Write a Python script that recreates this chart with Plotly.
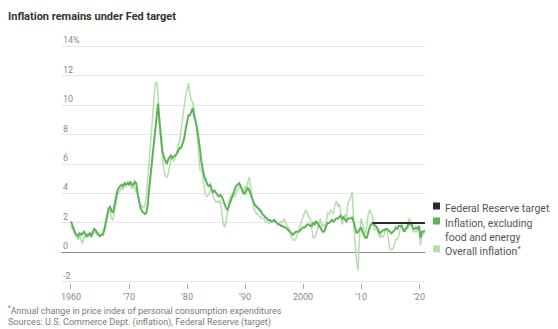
import pandas as pd
import plotly.graph_objects as go

# Year-over-year change in PCE price index, quarterly, 1960 Q1 - 2021 Q1 (percent)
core_inflation = [
    2.1, 1.8, 1.5, 1.3,   # 1960
    1.2, 1.1, 1.3, 1.2,   # 1961
    1.3, 1.4, 1.2, 1.1,   # 1962
    1.2, 1.3, 1.1, 1.3,   # 1963
    1.6, 1.5, 1.3, 1.2,   # 1964
    1.1, 1.2, 1.2, 1.5,   # 1965
    2.0, 2.6, 3.0, 3.1,   # 1966
    2.8, 2.7, 3.2, 3.7,   # 1967
    4.2, 4.4, 4.5, 4.6,   # 1968
    4.5, 4.7, 4.6, 4.7,   # 1969
    4.6, 4.8, 4.6, 4.6,   # 1970
    4.8, 4.7, 4.0, 3.4,   # 1971
    3.0, 2.8, 2.7, 2.6,   # 1972
    2.7, 3.3, 4.4, 5.4,   # 1973
    6.3, 7.5, 8.6, 9.5,   # 1974
    10.1, 9.0, 7.6, 6.9,  # 1975
    6.5, 6.2, 6.0, 6.3,   # 1976
    6.5, 6.6, 6.4, 6.5,   # 1977
    6.6, 6.7, 6.9, 7.1,   # 1978
    7.1, 7.4, 7.7, 8.3,   # 1979
    8.9, 9.3, 9.3, 9.5,   # 1980
    9.8, 9.2, 8.9, 8.4,   # 1981
    7.8, 7.0, 6.1, 5.5,   # 1982
    5.1, 4.9, 4.6, 4.5,   # 1983
    4.6, 4.3, 4.1, 4.2,   # 1984
    4.0, 3.9, 3.8, 3.9,   # 1985
    3.8, 3.5, 3.2, 3.0,   # 1986
    2.9, 3.2, 3.5, 3.8,   # 1987
    4.0, 4.3, 4.5, 4.6,   # 1988
    4.7, 4.5, 4.2, 4.0,   # 1989
    4.0, 4.2, 4.4, 4.2,   # 1990
    3.9, 3.6, 3.4, 3.2,   # 1991
    3.1, 3.0, 2.9, 2.8,   # 1992
    2.6, 2.5, 2.4, 2.3,   # 1993
    2.2, 2.2, 2.1, 2.1,   # 1994
    2.2, 2.1, 2.0, 1.9,   # 1995
    1.9, 1.8, 1.8, 1.7,   # 1996
    1.7, 1.6, 1.5, 1.4,   # 1997
    1.3, 1.2, 1.3, 1.4,   # 1998
    1.4, 1.4, 1.5, 1.6,   # 1999
    1.7, 1.7, 1.8, 1.9,   # 2000
    1.9, 1.8, 1.8, 2.0,   # 2001
    1.9, 2.1, 2.0, 1.8,   # 2002
    1.6, 1.5, 1.4, 1.5,   # 2003
    1.8, 2.0, 2.0, 2.1,   # 2004
    2.2, 2.1, 2.2, 2.3,   # 2005
    2.3, 2.4, 2.5, 2.3,   # 2006
    2.4, 2.2, 2.1, 2.3,   # 2007
    2.3, 2.3, 2.4, 2.0,   # 2008
    1.6, 1.3, 1.4, 1.6,   # 2009
    1.7, 1.4, 1.2, 1.0,   # 2010
    1.0, 1.4, 1.7, 1.9,   # 2011
    2.0, 1.9, 1.8, 1.7,   # 2012
    1.5, 1.3, 1.4, 1.5,   # 2013
    1.5, 1.6, 1.6, 1.5,   # 2014
    1.4, 1.3, 1.4, 1.5,   # 2015
    1.7, 1.6, 1.8, 1.8,   # 2016
    1.8, 1.6, 1.4, 1.6,   # 2017
    1.7, 2.0, 1.9, 1.9,   # 2018
    1.6, 1.6, 1.7, 1.6,   # 2019
    1.8, 1.0, 1.4, 1.4,   # 2020
    1.5,                  # 2021
]

overall_inflation = [
    1.8, 1.6, 1.3, 1.2,   # 1960
    1.0, 0.9, 1.1, 0.8,   # 1961
    0.6, 1.1, 1.0, 1.3,   # 1962
    1.1, 1.2, 1.0, 1.4,   # 1963
    1.3, 1.4, 1.2, 1.3,   # 1964
    1.1, 1.3, 1.4, 1.7,   # 1965
    2.2, 2.6, 2.9, 2.8,   # 1966
    2.3, 2.2, 2.8, 3.2,   # 1967
    3.9, 4.1, 4.3, 4.4,   # 1968
    4.3, 4.6, 4.5, 4.8,   # 1969
    4.8, 4.6, 4.3, 4.6,   # 1970
    4.4, 4.2, 3.9, 3.4,   # 1971
    3.1, 3.2, 3.0, 3.2,   # 1972
    3.8, 5.0, 6.2, 7.6,   # 1973
    9.0, 10.4, 11.4, 11.6,  # 1974
    10.8, 8.6, 7.6, 6.6,  # 1975
    5.6, 5.2, 5.1, 5.3,   # 1976
    6.0, 6.4, 6.3, 6.2,   # 1977
    6.4, 7.0, 7.3, 7.6,   # 1978
    8.4, 9.2, 10.0, 10.6,  # 1979
    11.0, 11.5, 10.8, 10.3,  # 1980
    10.2, 9.3, 8.8, 8.0,  # 1981
    6.5, 5.6, 5.6, 5.1,   # 1982
    4.3, 3.9, 3.8, 3.9,   # 1983
    4.2, 4.1, 3.8, 3.6,   # 1984
    3.4, 3.5, 3.4, 3.5,   # 1985
    2.7, 2.0, 1.7, 2.1,   # 1986
    2.8, 3.5, 3.8, 3.9,   # 1987
    3.8, 3.8, 4.1, 4.3,   # 1988
    4.4, 4.6, 4.2, 4.0,   # 1989
    4.5, 4.2, 4.8, 5.1,   # 1990
    4.3, 3.5, 3.0, 2.8,   # 1991
    2.6, 2.6, 2.4, 2.4,   # 1992
    2.3, 2.3, 2.1, 2.1,   # 1993
    2.0, 2.0, 2.2, 2.1,   # 1994
    2.2, 2.1, 2.0, 1.9,   # 1995
    2.0, 2.1, 2.1, 2.3,   # 1996
    2.1, 1.8, 1.7, 1.5,   # 1997
    1.0, 0.9, 0.8, 0.9,   # 1998
    1.2, 1.5, 1.8, 2.1,   # 1999
    2.5, 2.7, 2.9, 2.6,   # 2000
    2.4, 2.3, 1.6, 1.0,   # 2001
    1.0, 1.2, 1.6, 1.9,   # 2002
    2.3, 1.7, 1.9, 1.8,   # 2003
    2.0, 2.7, 2.6, 2.9,   # 2004
    2.7, 2.6, 3.2, 3.5,   # 2005
    3.1, 3.3, 2.7, 1.9,   # 2006
    2.3, 2.6, 2.3, 3.4,   # 2007
    3.5, 3.8, 4.1, 1.8,   # 2008
    0.3, -0.6, -1.2, 1.2,  # 2009
    2.3, 1.9, 1.4, 1.2,   # 2010
    1.8, 2.6, 2.9, 2.6,   # 2011
    2.4, 1.5, 1.6, 1.7,   # 2012
    1.2, 1.0, 1.2, 1.0,   # 2013
    1.2, 1.6, 1.5, 0.9,   # 2014
    0.2, 0.2, 0.2, 0.5,   # 2015
    0.9, 0.9, 1.1, 1.6,   # 2016
    2.0, 1.4, 1.5, 1.7,   # 2017
    1.9, 2.3, 2.2, 1.9,   # 2018
    1.4, 1.4, 1.4, 1.5,   # 2019
    1.7, 0.5, 1.2, 1.2,   # 2020
    1.4,                  # 2021
]

fed_target = 2.0
target_start = "2012-01-01"
target_end = "2021-01-10"

y_ticks = [-2, 0, 2, 4, 6, 8, 10, 12, 14]
y_tick_text = ["-2", "0", "2", "4", "6", "8", "10", "12", "14%"]
x_tick_years = [1960, 1970, 1980, 1990, 2000, 2010, 2020]
x_tick_text = ["1960", "\u201970", "\u201980", "\u201990", "2000", "\u201910", "\u201920"]

legend_labels = ["Federal Reserve target", "Inflation, excluding<br>food and energy", "Overall inflation<sup>*</sup>"]

dates = pd.date_range("1960-01-01", periods=len(core_inflation), freq="QS")

CORE = "#5cb358"
OVERALL = "#b8dcae"
TARGET = "#2b2b2b"
FONT = "Liberation Sans Narrow, Roboto, sans-serif"

W, H = 558, 329
L, R, T, B = 61, 133, 45, 46
plot_w = W - L - R
plot_h = H - T - B
Y_LO, Y_HI = -2.07, 14.07

fig = go.Figure()
fig.add_trace(go.Scatter(x=dates, y=overall_inflation, mode="lines",
                         line=dict(color=OVERALL, width=1.5), hoverinfo="skip"))
fig.add_trace(go.Scatter(x=dates, y=core_inflation, mode="lines",
                         line=dict(color=CORE, width=2), hoverinfo="skip"))
fig.add_trace(go.Scatter(x=[target_start, target_end], y=[fed_target, fed_target], mode="lines",
                         line=dict(color=TARGET, width=1.8), hoverinfo="skip"))


def px_x(px):
    return (px - L) / plot_w


def px_y(py):
    return (H - B - py) / plot_h


annotations = []
# y-axis labels sit just above their gridlines, inside the plot
for v, t in zip(y_ticks, y_tick_text):
    annotations.append(dict(x=0, y=v, xref="paper", yref="y", text=t, showarrow=False,
                            xanchor="left", yanchor="bottom", yshift=-1, xshift=0,
                            font=dict(family=FONT, size=9, color="#8a8a8a")))

# legend built from coloured squares and labels
legend_colors = [TARGET, CORE, OVERALL]
legend_rows = [206, 221, 249]
shapes = []
for color, label, py in zip(legend_colors, legend_labels, legend_rows):
    shapes.append(dict(type="rect", xref="paper", yref="paper",
                       x0=px_x(433), x1=px_x(440), y0=px_y(py + 3.5), y1=px_y(py - 3.5),
                       fillcolor=color, line=dict(width=0)))
    annotations.append(dict(x=px_x(443), y=px_y(py - 6.5), xref="paper", yref="paper",
                            text=label, showarrow=False, xanchor="left", yanchor="top",
                            align="left", font=dict(family=FONT, size=10.5, color="#555555")))

# title and notes
annotations.append(dict(x=px_x(6), y=px_y(17), xref="paper", yref="paper",
                        text="<b>Inflation remains under Fed target</b>", showarrow=False,
                        xanchor="left", yanchor="middle",
                        font=dict(family=FONT, size=11, color="#333333")))
annotations.append(dict(x=px_x(6), y=px_y(310), xref="paper", yref="paper",
                        text="<sup>*</sup>Annual change in price index of personal consumption expenditures",
                        showarrow=False, xanchor="left", yanchor="middle",
                        font=dict(family=FONT, size=9, color="#7a7a7a")))
annotations.append(dict(x=px_x(6), y=px_y(322), xref="paper", yref="paper",
                        text="Sources: U.S. Commerce Dept. (inflation), Federal Reserve (target)",
                        showarrow=False, xanchor="left", yanchor="middle",
                        font=dict(family=FONT, size=9, color="#7a7a7a")))

fig.update_layout(
    width=W, height=H, autosize=False,
    margin=dict(l=L, r=R, t=T, b=B, pad=0),
    paper_bgcolor="white", plot_bgcolor="white",
    showlegend=False,
    annotations=annotations,
    shapes=shapes,
    font=dict(family=FONT),
)
fig.update_xaxes(
    type="date",
    range=["1958-04-12", "2021-01-12"],
    tickvals=[f"{y}-01-01" for y in x_tick_years],
    ticktext=x_tick_text,
    ticks="outside", ticklen=5, tickcolor="#aaaaaa", tickwidth=1,
    tickfont=dict(family=FONT, size=9, color="#8a8a8a"),
    showgrid=False, showline=False, zeroline=False,
)
fig.update_yaxes(
    range=[Y_LO, Y_HI],
    tickvals=y_ticks,
    showticklabels=False,
    showgrid=True, gridcolor="#e6e6e6", gridwidth=1,
    zeroline=True, zerolinecolor="#8c8c8c", zerolinewidth=1.2,
    showline=False,
)

fig.write_html("out.html")
